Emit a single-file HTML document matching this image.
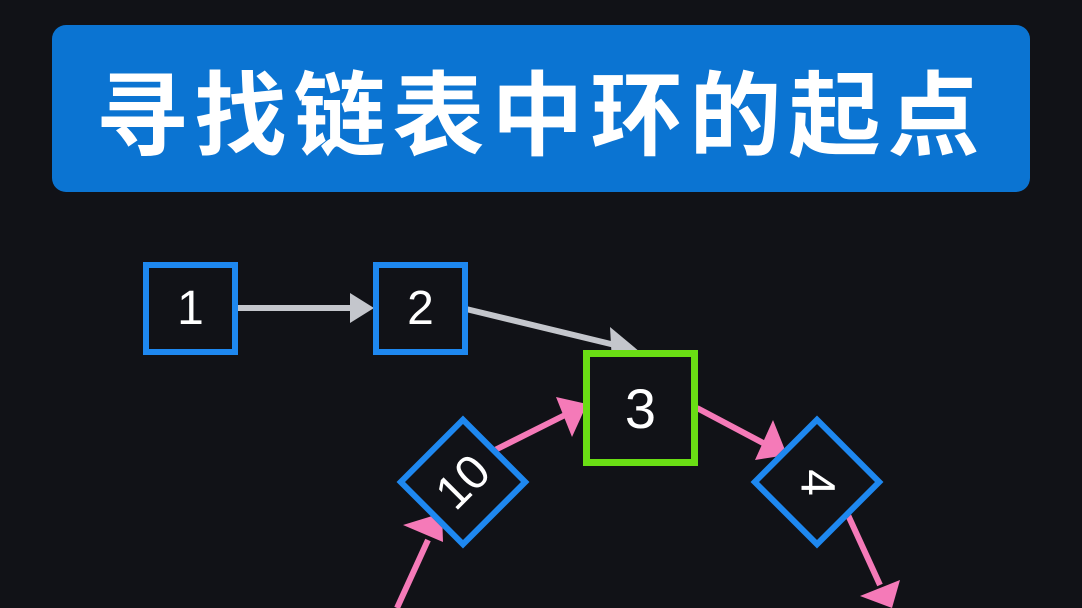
<!DOCTYPE html>
<html><head><meta charset="utf-8"><style>
html,body{margin:0;padding:0;background:#111217;width:1082px;height:608px;overflow:hidden;position:relative;font-family:"Liberation Sans","Noto Sans CJK SC",sans-serif}
.title{position:absolute;left:52px;top:25px;width:978px;height:167px;background:#0b74d2;border-radius:14px;color:#fff;font-size:92px;font-weight:bold;text-align:center;line-height:167px;letter-spacing:7px;font-family:"Noto Sans CJK SC",sans-serif}
.box{position:absolute;box-sizing:border-box;border:6px solid #1e88f0;background:#111217;color:#fff;font-size:48px;display:flex;align-items:center;justify-content:center}
</style></head><body>
<div class="title">寻找链表中环的起点</div>
<svg width="1082" height="608" style="position:absolute;left:0;top:0">
<g stroke="#c4c6cc" stroke-width="6" fill="#c4c6cc">
<line x1="238" y1="308" x2="350" y2="308"/><path d="M374,308 L350,293 L350,323 Z" stroke="none"/>
<line x1="466" y1="309" x2="615" y2="345"/><path d="M640,352 L610,327 L612,362 Z" stroke="none"/>
</g>
<g stroke="#f57ab8" stroke-width="6" fill="#f57ab8">
<line x1="495" y1="450" x2="565" y2="415"/><path d="M587,404 L556,397 L572,437 Z" stroke="none"/>
<line x1="697" y1="408" x2="765" y2="444"/><path d="M787,455 L773,420 L755,460 Z" stroke="none"/>
<line x1="848" y1="515" x2="880" y2="585"/><path d="M892,608 L860,596 L900,580 Z" stroke="none"/>
<line x1="397" y1="608" x2="428" y2="540"/><path d="M442,513 L403,525 L443,542 Z" stroke="none"/>
</g>
</svg>
<div class="box" style="left:143px;top:262px;width:95px;height:93px">1</div>
<div class="box" style="left:373px;top:262px;width:95px;height:93px">2</div>
<div class="box" style="left:583px;top:350px;width:115px;height:116px;border:7px solid #6ade14;font-size:56px">3</div>
<div class="box" style="left:416px;top:435px;width:94px;height:94px;transform:rotate(-45deg)">10</div>
<div class="box" style="left:770px;top:435px;width:94px;height:94px;transform:rotate(45deg)"><span style="display:inline-block;transform:rotate(45deg)">4</span></div>
</body></html>
